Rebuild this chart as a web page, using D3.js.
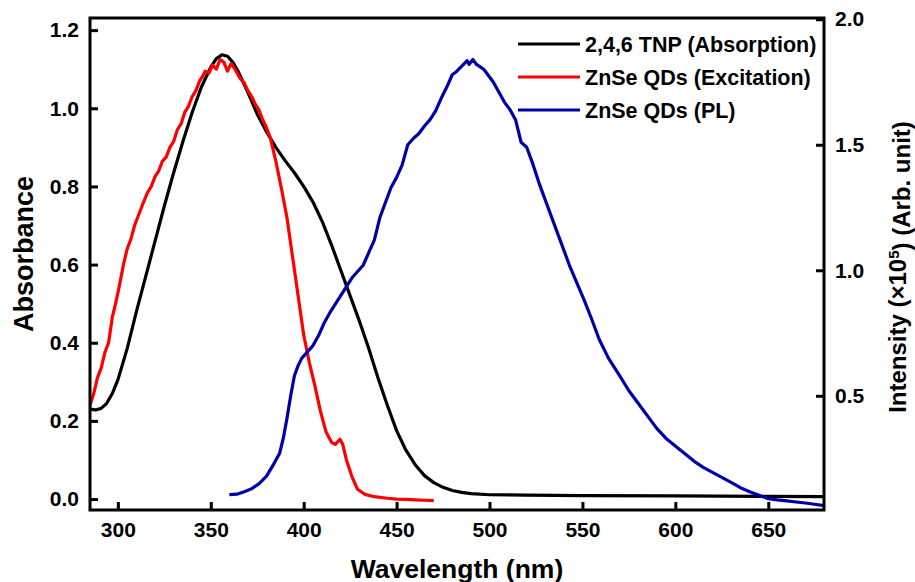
<!DOCTYPE html>
<html>
<head>
<meta charset="utf-8">
<script src="https://cdn.jsdelivr.net/npm/d3@7"></script>
<style>
  body { margin: 0; background: #fff; }
  text { font-family: "Liberation Sans", Arial, sans-serif; font-weight: bold; fill: #000; }
</style>
</head>
<body>
<div id="chart"></div>
<script>
// [wavelength nm, absorbance]
var tnpAbsorption = [
  [285, 0.23], [288, 0.228], [291, 0.232], [294, 0.245], [297, 0.27], [300, 0.305],
  [305, 0.385], [310, 0.48], [315, 0.57], [320, 0.66], [325, 0.75], [330, 0.835],
  [335, 0.915], [340, 0.99], [345, 1.055], [350, 1.105], [353, 1.127], [356, 1.137],
  [359, 1.133], [362, 1.117], [365, 1.092], [370, 1.04], [375, 0.985], [380, 0.94],
  [385, 0.90], [390, 0.866], [395, 0.835], [400, 0.80], [405, 0.76], [410, 0.71],
  [415, 0.65], [420, 0.585], [425, 0.52], [430, 0.455], [435, 0.385], [440, 0.31],
  [445, 0.24], [450, 0.175], [455, 0.125], [460, 0.088], [465, 0.06], [470, 0.042],
  [475, 0.03], [480, 0.022], [485, 0.017], [490, 0.014], [500, 0.011], [520, 0.01],
  [550, 0.009], [600, 0.008], [650, 0.007], [680, 0.006]
];

// [wavelength nm, excitation, same left axis]
var qdExcitation = [
  [285, 0.24], [287, 0.27], [289, 0.31], [291, 0.335], [293, 0.375], [295, 0.40],
  [297, 0.465], [299, 0.505], [301, 0.55], [303, 0.60], [305, 0.64], [307, 0.665],
  [309, 0.70], [311, 0.725], [313, 0.75], [316, 0.785], [318, 0.80], [320, 0.825],
  [322, 0.84], [324, 0.865], [326, 0.875], [328, 0.90], [330, 0.915], [332, 0.945],
  [334, 0.96], [336, 0.99], [338, 1.005], [340, 1.03], [342, 1.045], [344, 1.07],
  [346, 1.085], [347, 1.095], [349, 1.09], [351, 1.11], [353, 1.10], [355, 1.125],
  [357, 1.118], [359, 1.095], [361, 1.115], [363, 1.10], [366, 1.075], [368, 1.065],
  [370, 1.045], [372, 1.03], [374, 1.01], [376, 0.995], [378, 0.97], [380, 0.95],
  [382, 0.925], [385, 0.865], [388, 0.795], [391, 0.72], [394, 0.62], [397, 0.52],
  [400, 0.42], [403, 0.35], [406, 0.29], [409, 0.225], [412, 0.172], [415, 0.145],
  [417, 0.14], [419.5, 0.153], [421, 0.14], [423, 0.10], [426, 0.057], [429, 0.025],
  [433, 0.012], [438, 0.006], [445, 0.002], [450, 0.0], [455, -0.001], [460, -0.002],
  [465, -0.003], [470, -0.004]
];

// [wavelength nm, PL intensity x10^5, right axis]
var qdPL = [
  [360, 0.106], [364, 0.108], [368, 0.118], [372, 0.13], [376, 0.15], [380, 0.18],
  [384, 0.23], [387, 0.27], [389, 0.33], [391, 0.41], [393, 0.50], [395, 0.58],
  [397, 0.62], [399, 0.65], [402, 0.675], [405, 0.70], [408, 0.74], [411, 0.79],
  [414, 0.83], [417, 0.865], [420, 0.90], [423, 0.935], [426, 0.97], [429, 0.995],
  [432, 1.02], [435, 1.07], [438, 1.12], [441, 1.21], [444, 1.27], [447, 1.33],
  [450, 1.37], [453, 1.42], [456, 1.50], [459, 1.525], [462, 1.545], [465, 1.575],
  [468, 1.60], [471, 1.635], [474, 1.685], [477, 1.73], [480, 1.78], [482, 1.79],
  [484, 1.805], [486, 1.82], [488, 1.835], [489, 1.82], [491, 1.84], [493, 1.82],
  [495, 1.81], [497, 1.80], [499, 1.78], [502, 1.75], [505, 1.71], [508, 1.67],
  [511, 1.64], [514, 1.60], [517, 1.51], [520, 1.49], [523, 1.43], [527, 1.34],
  [531, 1.26], [535, 1.18], [539, 1.10], [543, 1.02], [547, 0.95], [551, 0.88],
  [555, 0.805], [559, 0.725], [564, 0.65], [570, 0.58], [575, 0.52], [580, 0.47],
  [585, 0.42], [590, 0.37], [595, 0.33], [600, 0.30], [605, 0.27], [610, 0.24],
  [615, 0.215], [620, 0.195], [625, 0.175], [630, 0.155], [635, 0.134], [640, 0.118],
  [645, 0.104], [650, 0.09], [655, 0.085], [660, 0.081], [665, 0.077], [670, 0.073],
  [675, 0.068], [680, 0.062]
];

var xTicks = [300, 350, 400, 450, 500, 550, 600, 650];
var leftTicks = [0, 0.2, 0.4, 0.6, 0.8, 1.0, 1.2];
var rightTicks = [0.5, 1.0, 1.5, 2.0];
var seriesNames = ["2,4,6 TNP (Absorption)", "ZnSe QDs (Excitation)", "ZnSe QDs (PL)"];
var seriesColors = ["#000000", "#ff0000", "#0000a8"];

var width = 915, height = 582;
var plotL = 90, plotR = 824, plotT = 18, plotB = 510;

var svg = d3.select("#chart").append("svg")
  .attr("width", width)
  .attr("height", height)
  .style("background", "#fff");

var x = d3.scaleLinear().domain([285, 680]).range([plotL, plotR]);
var yL = d3.scaleLinear().domain([-0.028, 1.231]).range([plotB, plotT]);
var yR = d3.scaleLinear().domain([0.045, 2.005]).range([plotB, plotT]);

// curves
var lineL = d3.line().x(function(d) { return x(d[0]); }).y(function(d) { return yL(d[1]); });
var lineR = d3.line().x(function(d) { return x(d[0]); }).y(function(d) { return yR(d[1]); });

svg.append("defs").append("clipPath").attr("id", "plotclip")
  .append("rect").attr("x", plotL).attr("y", plotT).attr("width", plotR - plotL).attr("height", plotB - plotT);

var plot = svg.append("g").attr("clip-path", "url(#plotclip)");

plot.append("path").datum(tnpAbsorption).attr("d", lineL)
  .attr("fill", "none").attr("stroke", seriesColors[0]).attr("stroke-width", 3.2).attr("stroke-linejoin", "round");
plot.append("path").datum(qdExcitation).attr("d", lineL)
  .attr("fill", "none").attr("stroke", seriesColors[1]).attr("stroke-width", 3.2).attr("stroke-linejoin", "round");
plot.append("path").datum(qdPL).attr("d", lineR)
  .attr("fill", "none").attr("stroke", seriesColors[2]).attr("stroke-width", 3.2).attr("stroke-linejoin", "round");

// axes
svg.append("g").attr("transform", "translate(0," + plotB + ")")
  .call(d3.axisBottom(x).tickValues(xTicks).tickSize(-8).tickPadding(12).tickFormat(d3.format("d")));
svg.append("g").attr("transform", "translate(" + plotL + ",0)")
  .call(d3.axisLeft(yL).tickValues(leftTicks).tickSize(-8).tickPadding(11).tickFormat(d3.format(".1f")));
svg.append("g").attr("transform", "translate(" + plotR + ",0)")
  .call(d3.axisRight(yR).tickValues(rightTicks).tickSize(-8).tickPadding(11).tickFormat(d3.format(".1f")));

svg.selectAll(".domain").remove();
svg.selectAll(".tick line").attr("stroke", "#000").attr("stroke-width", 3);
svg.selectAll(".tick text")
  .style("font-size", "21px")
  .style("font-family", "'Liberation Sans', Arial, sans-serif")
  .style("font-weight", "bold")
  .attr("fill", "#000");

svg.append("rect")
  .attr("x", plotL).attr("y", plotT)
  .attr("width", plotR - plotL).attr("height", plotB - plotT)
  .attr("fill", "none").attr("stroke", "#000").attr("stroke-width", 3);

// legend
var legend = svg.append("g");
seriesNames.forEach(function(name, i) {
  var ly = 44 + i * 33;
  legend.append("line")
    .attr("x1", 518).attr("x2", 580).attr("y1", ly).attr("y2", ly)
    .attr("stroke", seriesColors[i]).attr("stroke-width", 3);
  legend.append("text")
    .attr("x", 585).attr("y", ly).attr("dy", "0.36em")
    .style("font-size", "21.5px")
    .text(name);
});

// titles
svg.append("text")
  .attr("transform", "translate(33,254) rotate(-90)")
  .attr("text-anchor", "middle")
  .style("font-size", "27px")
  .text("Absorbance");

svg.append("text")
  .attr("x", (plotL + plotR) / 2).attr("y", 578)
  .attr("text-anchor", "middle")
  .style("font-size", "26.5px")
  .text("Wavelength (nm)");

var rt = svg.append("text")
  .attr("transform", "translate(906,267) rotate(-90)")
  .attr("text-anchor", "middle")
  .style("font-size", "24px");
rt.append("tspan").text("Intensity (\u00d710");
rt.append("tspan").attr("dy", "-0.45em").style("font-size", "15px").text("5");
rt.append("tspan").attr("dy", "0.45em").text(") (Arb. unit)");
</script>
</body>
</html>
